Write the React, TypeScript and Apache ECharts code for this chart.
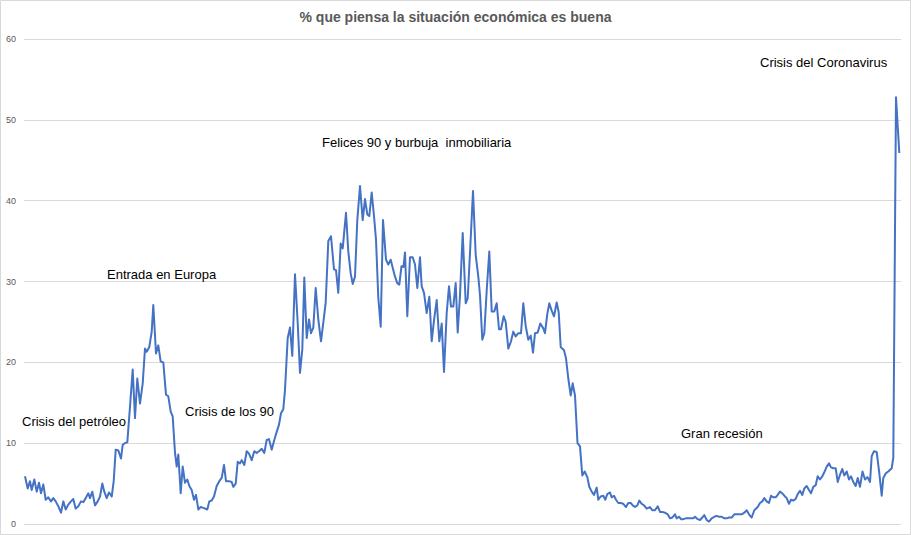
import React, { useEffect, useRef } from "react";
import * as echarts from "echarts";

const titulo = "% que piensa la situación económica es buena";

// [tiempo (índice estimado), % que piensa que la situación económica es buena]
const serie: [number, number][] = [
  [0,5.9],[2.7,4.4],[5,5.3],[6.7,4.2],[9.3,5.5],[11.7,4.0],[14,5.1],[16,3.8],[18.3,4.9],[20.7,3.0],
  [23.3,3.3],[26,2.8],[28.3,3.2],[30.7,2.8],[33.3,2.2],[36,1.4],[38.3,2.8],[40.7,1.8],[43.3,2.4],[46,2.8],
  [48.3,3.1],[50.7,1.9],[53.3,2.2],[56,2.8],[58.3,2.7],[60.7,3.2],[63.3,3.8],[65,3.2],[67.3,4.0],[70,2.3],
  [72.7,2.8],[75,3.4],[77.3,5.0],[79.3,4.0],[81.7,3.2],[84,3.9],[86.7,3.4],[88.7,5.3],[90.7,9.2],[93.3,9.1],
  [96,8.1],[97.7,9.8],[100,10.0],[102.3,10.1],[105,14.5],[107.7,19.1],[110,13.1],[112.3,18.0],[115,14.9],[117.7,17.4],
  [120,21.7],[121.7,21.3],[124.3,21.9],[126.7,23.8],[128.3,27.1],[131,21.1],[133.3,22.1],[135.7,20.1],[138.3,20.0],[141,16.0],
  [143.3,15.8],[145.7,13.9],[147.7,13.3],[150,8.8],[151.7,7.1],[153.3,8.6],[155.7,3.8],[157.7,7.1],[160,5.1],[162.3,5.5],
  [164.3,4.7],[166.7,4.2],[169,3.0],[171,3.6],[173.3,1.8],[175.7,2.1],[178.3,2.0],[182.3,1.8],[184.3,2.8],[186.7,2.9],
  [189,3.4],[191.7,4.7],[194.3,5.3],[196.7,5.7],[199,7.3],[201,5.3],[204,5.3],[206.7,5.2],[208.3,4.6],[210.7,5.0],
  [212.7,7.7],[215,7.5],[216.7,7.9],[219.3,7.3],[221.7,9.0],[224,8.7],[226.7,7.9],[229.3,9.0],[231.7,8.8],[234,9.0],
  [236.7,9.3],[239.3,8.8],[241.7,10.4],[244,10.5],[246.7,9.2],[249.3,10.4],[251.7,11.4],[254,12.3],[256,13.7],[258.3,14.2],
  [260,16.6],[262.7,23.0],[265,24.3],[267.3,20.8],[270,30.9],[272.7,24.9],[275,18.7],[277.3,21.6],[279.3,30.5],[281.7,23.0],
  [284,25.3],[286,23.6],[288.3,24.3],[290.7,29.2],[293.3,25.3],[296,22.6],[298.3,24.9],[300.7,27.4],[303.3,35.0],[306,35.6],
  [309,31.5],[311,31.4],[313.3,28.6],[315.7,34.7],[317.7,34.1],[321,38.5],[323.3,33.7],[325.7,31.0],[327.7,29.7],[330,30.6],
  [332.3,37.6],[335,41.8],[337.7,37.6],[340,40.2],[342.3,38.3],[344.3,38.1],[346.7,41.0],[349,38.1],[351,35.2],[353.3,28.0],
  [355.7,24.4],[358,37.6],[361,32.7],[363.3,32.1],[365.7,32.7],[367.7,31.7],[370,30.6],[372.3,29.8],[374.3,29.6],[376.5,31.9],
  [378.5,31.8],[380,33.6],[382.3,25.7],[385,33.0],[387.7,33.0],[390,32.1],[392.3,29.2],[395,33.0],[396.7,29.4],[399,28.6],
  [401.7,26.1],[404.3,28.1],[406.7,22.6],[409,25.2],[411.7,27.7],[414.3,22.6],[416.7,24.8],[419,18.8],[421.7,26.1],[424,29.4],
  [426,26.9],[428.3,26.9],[430.7,29.8],[432.7,23.7],[435,28.3],[437.7,36.0],[440.7,27.3],[442.7,27.9],[445.3,34.3],[448,41.2],
  [450.7,33.3],[453.3,30.6],[455,28.3],[457.3,22.8],[459.3,23.6],[461.7,28.9],[464.3,33.7],[466.7,26.3],[469.3,26.3],[471.7,27.3],
  [474,24.1],[476,24.1],[478.7,25.7],[480.7,25.0],[483.3,21.7],[486,22.6],[488.3,23.8],[490.7,23.2],[493.3,23.6],[496,23.6],
  [498.3,27.3],[500.7,24.5],[503.3,22.8],[505.7,23.3],[508,21.2],[510,23.6],[512.7,23.7],[515.3,24.8],[518.3,24.2],[520,23.6],
  [522.3,26.0],[524.3,27.3],[526.7,26.4],[529,25.7],[531.7,27.4],[533.7,26.2],[535.7,21.9],[537.3,21.7],[539,21.5],[541,20.5],
  [543.3,18.0],[545.7,15.9],[547.7,17.4],[550,15.9],[552.5,10.0],[555,9.6],[557.3,6.0],[559.7,6.5],[562.3,5.8],[564.3,4.6],
  [566.7,4.0],[569,3.6],[571.7,4.5],[573.3,3.0],[575.7,3.4],[578.3,3.5],[580.3,3.0],[582.3,3.7],[585,3.9],[586.7,3.3],
  [589,3.5],[591,3.0],[593.3,2.6],[595.7,2.6],[598.3,2.5],[601,2.1],[603.3,2.6],[605.7,2.6],[607.7,2.3],[610,2.1],
  [612.3,2.3],[614.3,2.9],[616.7,2.5],[619,2.3],[621.7,1.9],[625,2.1],[627.3,1.7],[630,1.7],[632.7,2.2],[635,1.5],
  [637.3,1.5],[640,1.4],[642.7,1.2],[645,0.7],[647.3,0.8],[650,1.2],[651.7,0.7],[654,0.9],[656,0.6],[658.3,0.6],
  [660.7,0.7],[663.3,0.7],[666,0.7],[668.3,0.7],[670,0.9],[672.7,0.6],[675,0.5],[677.3,0.8],[679.3,1.1],[681.7,0.5],
  [684,0.3],[686.7,0.7],[689.3,0.9],[691.7,1.0],[694,0.9],[696.7,0.9],[699.3,0.7],[701.7,0.7],[704,0.8],[706.7,0.8],
  [709.3,1.2],[711.7,1.2],[714,1.2],[716.7,1.2],[719.3,1.4],[721.7,1.7],[724,1.2],[726.7,0.8],[729.3,1.7],[732.7,2.1],
  [735,2.6],[737.3,2.8],[739.3,3.2],[741.7,2.8],[744,2.6],[746,3.5],[748.3,3.3],[750.7,3.3],[752.7,3.6],[755,4.0],
  [757.3,3.8],[759.3,3.5],[761.7,3.2],[764,2.5],[766,3.0],[768.3,2.9],[770.7,3.1],[772.7,3.7],[775,4.1],[777.3,3.6],
  [779.3,4.4],[781.7,4.7],[784,4.2],[786,3.8],[788.3,4.6],[790.7,4.8],[792.7,5.9],[795,5.5],[797.3,5.9],[799.3,6.4],
  [801.7,7.1],[804,7.5],[806,7.0],[808.3,6.9],[810.7,6.9],[812.7,5.2],[815,6.1],[817.3,6.8],[819.3,6.0],[821.7,6.5],
  [824,5.5],[826,5.9],[828.3,5.2],[830.7,4.7],[832.7,5.7],[835,4.6],[837.5,6.5],[840,5.5],[842.5,5.8],[845,5.2],
  [846.7,8.4],[849,9.0],[851.7,8.9],[854.3,6.3],[856.7,3.5],[858.3,5.7],[861,6.3],[863.3,6.5],[866.7,6.9],[868.3,8.2],
  [871,52.8],[874.3,45.9],
];

const etiquetas = [
  "Crisis del petróleo",
  "Entrada en Europa",
  "Crisis de los 90",
  "Felices 90 y burbuja  inmobiliaria",
  "Gran recesión",
  "Crisis del Coronavirus",
];

const FONT = '"Liberation Sans", Arial, sans-serif';

export default function App() {
  const ref = useRef<HTMLDivElement>(null);
  useEffect(() => {
    if (!ref.current) return;
    const chart = echarts.init(ref.current, undefined, { renderer: "svg" });
    const pos = [
      [22, 421],
      [107, 274],
      [185, 411],
      [322, 142],
      [681, 433],
      [760, 62],
    ];
    const textos = etiquetas.map((t, i) => ({
      type: "text",
      x: pos[i][0],
      y: pos[i][1],
      z: 10,
      style: {
        text: t,
        fill: "#000000",
        fontSize: 13,
        fontFamily: FONT,
        verticalAlign: "middle",
        align: "left",
      },
    }));
    chart.setOption({
      animation: false,
      backgroundColor: "#ffffff",
      title: {
        text: titulo,
        left: "center",
        top: 5,
        textStyle: {
          fontFamily: FONT,
          fontSize: 14,
          fontWeight: "bold",
          color: "#595959",
        },
      },
      grid: { left: 24, right: 10, top: 39, bottom: 11 },
      xAxis: { type: "value", min: -1, max: 876, show: false },
      yAxis: {
        type: "value",
        min: 0,
        max: 60,
        interval: 10,
        axisLine: { show: false },
        axisTick: { show: false },
        splitLine: { lineStyle: { color: "#d9d9d9", width: 1 } },
        axisLabel: { fontSize: 9, color: "#595959", margin: 8, fontFamily: FONT },
      },
      series: [
        {
          type: "line",
          data: serie,
          symbol: "none",
          showSymbol: false,
          silent: true,
          lineStyle: { color: "#4472C4", width: 2, join: "round" },
          itemStyle: { color: "#4472C4" },
        },
      ],
      graphic: [
        {
          type: "rect",
          shape: { x: 0.5, y: 0.5, width: 910, height: 534 },
          style: { fill: "none", stroke: "#d9d9d9", lineWidth: 1 },
          z: 0,
          silent: true,
        },
        ...textos,
      ],
    });
    return () => chart.dispose();
  }, []);
  return (
    <div
      ref={ref}
      style={{ position: "absolute", left: 0, top: 0, width: 911, height: 535 }}
    />
  );
}
